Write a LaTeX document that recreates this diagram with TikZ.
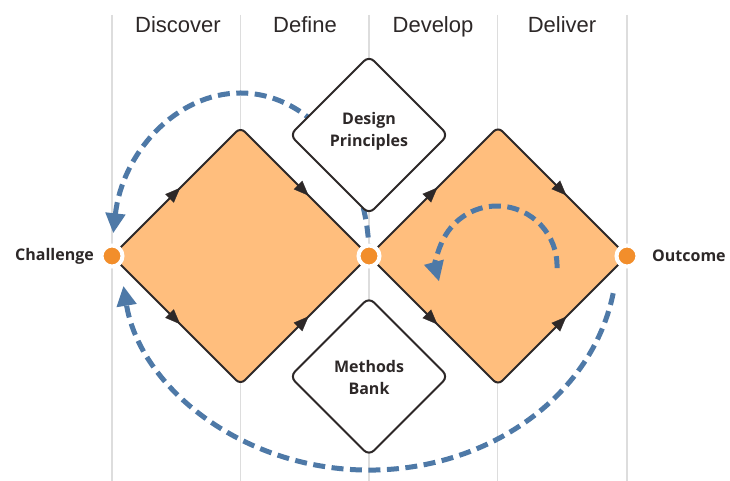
\documentclass[tikz,border=0pt]{standalone}
\usepackage{fontspec}
\setmainfont{Open Sans}
\newfontfamily\hdrfont{Liberation Sans}
\usetikzlibrary{arrows.meta,decorations.markings}
\definecolor{gridgrey}{RGB}{221,221,221}
\definecolor{dfill}{RGB}{255,190,125}
\definecolor{dark}{RGB}{45,40,40}
\definecolor{loopblue}{RGB}{78,121,167}
\definecolor{dotorange}{RGB}{242,142,43}
\definecolor{txt}{RGB}{45,40,40}
\begin{document}
\begin{tikzpicture}[x=1pt,y=1pt,
  gridline/.style={draw=gridgrey,line width=1.5pt},
  hdr/.style={font=\hdrfont\fontsize{22}{26}\selectfont,text=txt,anchor=base,inner sep=0pt},
  lbl/.style={font=\bfseries\fontsize{16}{22}\selectfont,text=txt,align=center,inner sep=0pt},
  bigdia/.style={fill=dfill,draw=dark,line width=2pt,rounded corners=6pt},
  smalldia/.style={fill=white,draw=dark,line width=2pt,rounded corners=7pt},
  flowmark/.style={postaction={decorate},decoration={markings,
     mark=at position 0.53 with {\arrow[dark]{Triangle[length=15pt,width=12pt]}}}},
  loopline/.style={draw=loopblue,line width=5pt,dash pattern=on 12pt off 6.5pt,
     -{Triangle[length=20pt,width=19pt]}},
  dotnode/.style={circle,fill=dotorange,draw=white,line width=4pt,minimum size=21pt,inner sep=0pt}]
\useasboundingbox (0,0) rectangle (730,481);
\fill[white] (0,0) rectangle (730,481);

% column lines
\foreach \gx/\gn in {112/g1,240.5/g2,369/g3,497.5/g4,627/g5}{
  \coordinate (\gn t) at (\gx,466);
  \coordinate (\gn b) at (\gx,0);
  \draw[gridline] (\gn t) -- (\gn b);
}

% headers
\node[hdr] (hdisc) at (178,448) {Discover};
\node[hdr] (hdef)  at (305,448) {Define};
\node[hdr] (hdev)  at (433,448) {Develop};
\node[hdr] (hdel)  at (562,448) {Deliver};

% key points
\coordinate (pL) at (112,225);
\coordinate (pM) at (369,225);
\coordinate (pR) at (627,225);
\coordinate (aT) at (240.5,353.5);
\coordinate (aB) at (240.5,96.5);
\coordinate (bT) at (498,354);
\coordinate (bB) at (498,96);

% top loop (behind design principles)
\draw[loopline] (pM) arc[start angle=0,end angle=172,x radius=128.5,y radius=163];

% orange diamonds
\draw[bigdia] (pL) -- (aT) -- (pM) -- (aB) -- cycle;
\draw[bigdia] (pM) -- (bT) -- (pR) -- (bB) -- cycle;
\path[flowmark] (pL) -- (aT);
\path[flowmark] (aT) -- (pM);
\path[flowmark] (pL) -- (aB);
\path[flowmark] (aB) -- (pM);
\path[flowmark] (pM) -- (bT);
\path[flowmark] (bT) -- (pR);
\path[flowmark] (pM) -- (bB);
\path[flowmark] (bB) -- (pR);

% white diamonds
\coordinate (dpC) at (369,346);
\draw[smalldia] (369,425) -- (448,346) -- (369,267) -- (290,346) -- cycle;
\node[lbl] (dp) at (369,350) {Design\\Principles};
\coordinate (mbC) at (369,104.5);
\draw[smalldia] (369,183.5) -- (448,104.5) -- (369,25.5) -- (290,104.5) -- cycle;
\node[lbl] (mb) at (369,103) {Methods\\Bank};

% inner loop
\coordinate (iS) at (557,212.9);
\draw[loopline] (iS) arc[start angle=-2,end angle=195,radius=60];

% bottom loop
\coordinate (bS) at (613.2,187.8);
\draw[loopline] (bS) arc[start angle=-10,end angle=-172,x radius=248,y radius=214];

% dots
\node[dotnode] (dL) at (pL) {};
\node[dotnode] (dM) at (pM) {};
\node[dotnode] (dR) at (pR) {};

% side labels
\node[lbl,anchor=east] (chal) at (94,225) {Challenge};
\node[lbl,anchor=west] (outc) at (652,225) {Outcome};
\end{tikzpicture}
\end{document}
